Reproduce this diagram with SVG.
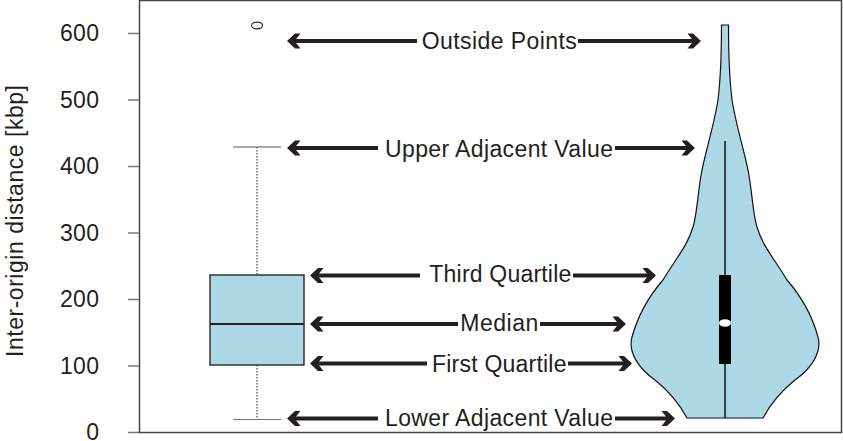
<svg xmlns="http://www.w3.org/2000/svg" width="843" height="441" viewBox="0 0 843 441">
  <style>
    .txt { font-family: "Liberation Sans", Arial, sans-serif; font-size: 23px; fill: #231f20; }
    .tick { stroke: #777; stroke-width: 1.5; }
    .arrow { stroke: #231f20; stroke-width: 4; fill: none; }
    .fillblue { fill: #add8e6; }
  </style>
  <defs>
    <marker id="head" markerUnits="userSpaceOnUse" markerWidth="20" markerHeight="20" refX="0" refY="0" viewBox="-10 -10 20 20" orient="auto" overflow="visible">
      <path d="M5,0 L-3,-7.5 L-8.5,-7.5 L-2.5,0 L-8.5,7.5 L-3,7.5 Z" fill="#231f20"/>
    </marker>
  </defs>
  <rect width="843" height="441" fill="#ffffff"/>

  <!-- plot frame and y axis -->
  <g id="axis">
    <rect x="139.5" y="0.5" width="702" height="432" fill="none" stroke="#444" stroke-width="1.5"/>
    <line class="tick" x1="128" y1="432.5" x2="139" y2="432.5"/>
    <line class="tick" x1="128" y1="366" x2="139" y2="366"/>
    <line class="tick" x1="128" y1="299.5" x2="139" y2="299.5"/>
    <line class="tick" x1="128" y1="233" x2="139" y2="233"/>
    <line class="tick" x1="128" y1="166.5" x2="139" y2="166.5"/>
    <line class="tick" x1="128" y1="100" x2="139" y2="100"/>
    <line class="tick" x1="128" y1="33.5" x2="139" y2="33.5"/>
    <g class="txt" text-anchor="end">
      <text x="99" y="439.5">0</text>
      <text x="99" y="373.8" textLength="39">100</text>
      <text x="99" y="307.3" textLength="39">200</text>
      <text x="99" y="240.8" textLength="39">300</text>
      <text x="99" y="174.3" textLength="39">400</text>
      <text x="99" y="107.8" textLength="39">500</text>
      <text x="99" y="41.3" textLength="39">600</text>
    </g>
    <text class="txt" text-anchor="middle" textLength="272" transform="translate(22.5,221) rotate(-90)">Inter-origin distance [kbp]</text>
  </g>

  <!-- box plot -->
  <g id="boxplot">
    <line x1="257" y1="147" x2="257" y2="275" stroke="#444" stroke-width="1.2" stroke-dasharray="1.5,1.5"/>
    <line x1="257" y1="365" x2="257" y2="419.5" stroke="#444" stroke-width="1.2" stroke-dasharray="1.5,1.5"/>
    <line x1="233" y1="147" x2="281" y2="147" stroke="#555" stroke-width="1.2"/>
    <line x1="233" y1="419.5" x2="281" y2="419.5" stroke="#777" stroke-width="1.2"/>
    <rect class="fillblue" x="210" y="275" width="94" height="90" stroke="#333" stroke-width="1.5"/>
    <line x1="210" y1="324" x2="304" y2="324" stroke="#222" stroke-width="2"/>
    <ellipse cx="257" cy="25.5" rx="5.5" ry="3.4" fill="none" stroke="#222" stroke-width="1.2"/>
  </g>

  <!-- violin plot -->
  <g id="violin">
    <path class="fillblue" stroke="#111" stroke-width="1.2" d="M728.5,25 C728.5,60 729,75 732,100 C736,125 744,150 748,170 C752,190 753,215 757,227 C762,245 775,260 787,280 C800,295 812,315 818,337 C822,352 812,368 795,380 C780,392 770,405 763,418 L687,418 C680,405 670,392 655,380 C638,368 628,352 632,337 C638,315 650,295 663,280 C675,260 688,245 693,227 C697,215 698,190 702,170 C706,150 714,125 718,100 C721,75 721.5,60 721.5,25 Z"/>
    <line x1="725" y1="141" x2="725" y2="418" stroke="#111" stroke-width="1.5"/>
    <rect x="719" y="275" width="12" height="89" fill="#000"/>
    <ellipse cx="725" cy="323" rx="6" ry="3.8" fill="#fff"/>
  </g>

  <!-- annotation arrows -->
  <g id="connectors" class="arrow">
    <line x1="417" y1="41" x2="292" y2="41" marker-end="url(#head)"/>
    <line x1="578" y1="41" x2="696" y2="41" marker-end="url(#head)"/>
    <line x1="378" y1="148" x2="292" y2="148" marker-end="url(#head)"/>
    <line x1="615" y1="148" x2="690" y2="148" marker-end="url(#head)"/>
    <line x1="420" y1="275.5" x2="315" y2="275.5" marker-end="url(#head)"/>
    <line x1="573" y1="275.5" x2="651" y2="275.5" marker-end="url(#head)"/>
    <line x1="458" y1="324" x2="315" y2="324" marker-end="url(#head)"/>
    <line x1="540" y1="324" x2="621" y2="324" marker-end="url(#head)"/>
    <line x1="427" y1="363.5" x2="315" y2="363.5" marker-end="url(#head)"/>
    <line x1="568" y1="363.5" x2="627" y2="363.5" marker-end="url(#head)"/>
    <line x1="378" y1="418.5" x2="292" y2="418.5" marker-end="url(#head)"/>
    <line x1="615" y1="418.5" x2="670" y2="418.5" marker-end="url(#head)"/>
  </g>

  <!-- annotation labels -->
  <g id="labels" class="txt">
    <text x="421.7" y="49.3" textLength="155">Outside Points</text>
    <text x="385" y="156.5" textLength="228">Upper Adjacent Value</text>
    <text x="429.3" y="282.3" textLength="142">Third Quartile</text>
    <text x="460.3" y="331" textLength="78">Median</text>
    <text x="432" y="371.5" textLength="134.5">First Quartile</text>
    <text x="385" y="425.7" textLength="228">Lower Adjacent Value</text>
  </g>
</svg>
